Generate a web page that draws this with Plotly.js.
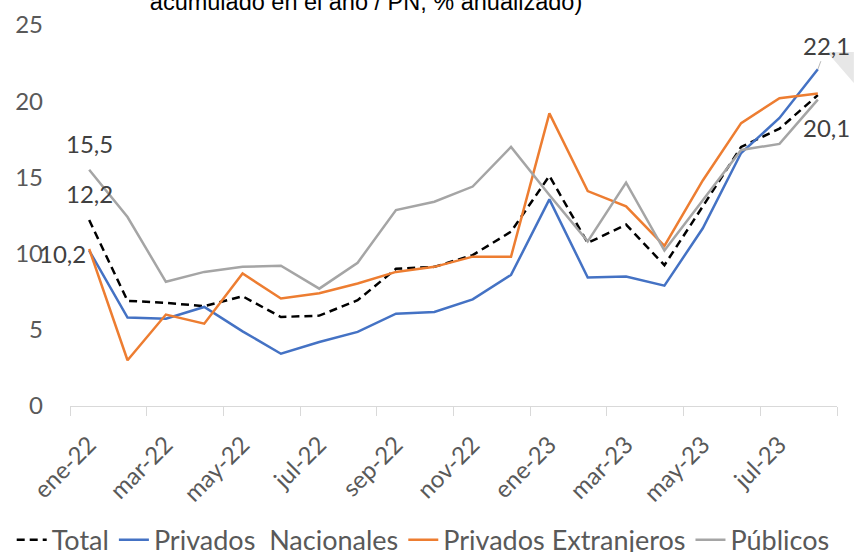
<!DOCTYPE html>
<html>
<head>
<meta charset="utf-8">
<script src="https://cdn.plot.ly/plotly-3.0.1.min.js"></script>
<style>html,body{margin:0;padding:0;background:#fff;}#chart{width:854px;height:552px;}</style>
</head>
<body>
<div id="chart"></div>
<script>
const months = ['ene-22','feb-22','mar-22','abr-22','may-22','jun-22','jul-22','ago-22','sep-22','oct-22','nov-22','dic-22',
                'ene-23','feb-23','mar-23','abr-23','may-23','jun-23','jul-23','ago-23'];
const total       = [12.2, 6.9, 6.77, 6.55, 7.2, 5.84, 5.93, 6.94, 9.0, 9.13, 9.9, 11.44, 15.1, 10.7, 11.9, 9.24, 13.1, 17.0, 18.2, 20.4];
const nacionales  = [10.2, 5.8, 5.73, 6.5, 4.9, 3.43, 4.2, 4.86, 6.06, 6.17, 7.0, 8.6, 13.56, 8.43, 8.5, 7.9, 11.66, 16.6, 18.9, 22.1];
const extranjeros = [10.3, 3.0, 6.0, 5.4, 8.7, 7.05, 7.4, 8.04, 8.8, 9.13, 9.8, 9.8, 19.2, 14.1, 13.1, 10.5, 14.8, 18.56, 20.2, 20.5];
const publicos    = [15.5, 12.4, 8.15, 8.8, 9.13, 9.2, 7.7, 9.4, 12.86, 13.4, 14.4, 17.0, 13.85, 10.8, 14.66, 10.2, 13.5, 16.8, 17.2, 20.1];
const xTickLabels = ['ene-22','mar-22','may-22','jul-22','sep-22','nov-22','ene-23','mar-23','may-23','jul-23'];
const yTicks = [0, 5, 10, 15, 20, 25];
const seriesNames = ['Total', 'Privados  Nacionales', 'Privados Extranjeros', 'Públicos'];
const titleText = 'acumulado en el año / PN, % anualizado)';

const idx = months.map((m, i) => i);
const xTickVals = xTickLabels.map(l => months.indexOf(l));
const fmt = v => v.toFixed(1).replace('.', ',');
const last = months.length - 1;

const labelFont = {family: 'Lato, "Open Sans", sans-serif', size: 24, color: '#404040'};

const traces = [
  {x: idx, y: total, name: seriesNames[0], mode: 'lines', line: {color: '#000000', width: 2.5, dash: '8px,5px'}},
  {x: idx, y: nacionales, name: seriesNames[1], mode: 'lines', line: {color: '#4472C4', width: 2.5}},
  {x: idx, y: extranjeros, name: seriesNames[2], mode: 'lines', line: {color: '#ED7D31', width: 2.5}},
  {x: idx, y: publicos, name: seriesNames[3], mode: 'lines', line: {color: '#A5A5A5', width: 2.5}}
].map(t => Object.assign(t, {hoverinfo: 'skip', text: months}));

const annotations = [
  {x: 0, y: publicos[0], text: fmt(publicos[0]), showarrow: false, yshift: 26, font: labelFont},
  {x: 0, y: total[0], text: fmt(total[0]), showarrow: false, yshift: 27, font: labelFont},
  {x: 0, y: nacionales[0], text: fmt(nacionales[0]), showarrow: false, xanchor: 'right', xshift: -1, yshift: -3, font: labelFont},
  {x: last, y: nacionales[last], text: fmt(nacionales[last]), showarrow: true, ax: 9, ay: -24,
   arrowhead: 0, arrowwidth: 0.8, arrowcolor: '#a6a6a6', standoff: 0, font: labelFont},
  {x: last, y: publicos[last], text: fmt(publicos[last]), showarrow: false, xshift: 9, yshift: -28, font: labelFont}
];

const layout = {
  width: 854, height: 552,
  margin: {l: 70, r: 17, t: 25, b: 146, pad: 0, autoexpand: false},
  paper_bgcolor: '#ffffff', plot_bgcolor: '#ffffff',
  showlegend: true,
  title: {text: titleText, font: {family: '"Liberation Sans", Arial, sans-serif', size: 23.5, color: '#000000'},
          xref: 'container', x: 0.4286, xanchor: 'center', yref: 'container', y: 0.996, yanchor: 'middle'},
  xaxis: {
    type: 'linear', range: [-0.5, last + 0.5], tickmode: 'array', tickvals: xTickVals, ticktext: xTickLabels,
    tickangle: -45, ticks: '', showgrid: false, zeroline: false, showline: true, linecolor: '#d9d9d9', linewidth: 1,
    tickfont: {family: 'Lato, "Open Sans", sans-serif', size: 24, color: '#595959'},
    ticklabelstandoff: 14,
    minor: {ticks: 'outside', ticklen: 9, tickcolor: '#d9d9d9', tickwidth: 1, tickmode: 'linear', tick0: -0.5, dtick: 2, showgrid: false}
  },
  yaxis: {
    range: [0, 25], tickmode: 'array', tickvals: yTicks, ticktext: yTicks.map(String),
    ticks: '', showgrid: false, zeroline: false, showline: false,
    tickfont: {family: 'Lato, "Open Sans", sans-serif', size: 24, color: '#595959'},
    ticklabelstandoff: 26
  },
  legend: {
    orientation: 'h', xref: 'paper', x: -0.076, xanchor: 'left', yref: 'paper', y: -0.352, yanchor: 'middle',
    font: {family: 'Lato, "Open Sans", sans-serif', size: 27, color: '#595959'},
    bgcolor: 'rgba(0,0,0,0)', itemwidth: 30, tracegroupgap: 0
  },
  shapes: [
    {type: 'path', xref: 'paper', yref: 'paper', path: 'M 0.987 0.929 L 1.022 0.929 L 1.022 0.848 Z',
     fillcolor: '#e7e7e7', line: {width: 0}, layer: 'below'}
  ],
  annotations: annotations
};

Plotly.newPlot('chart', traces, layout, {displayModeBar: false, staticPlot: true});
</script>
</body>
</html>
